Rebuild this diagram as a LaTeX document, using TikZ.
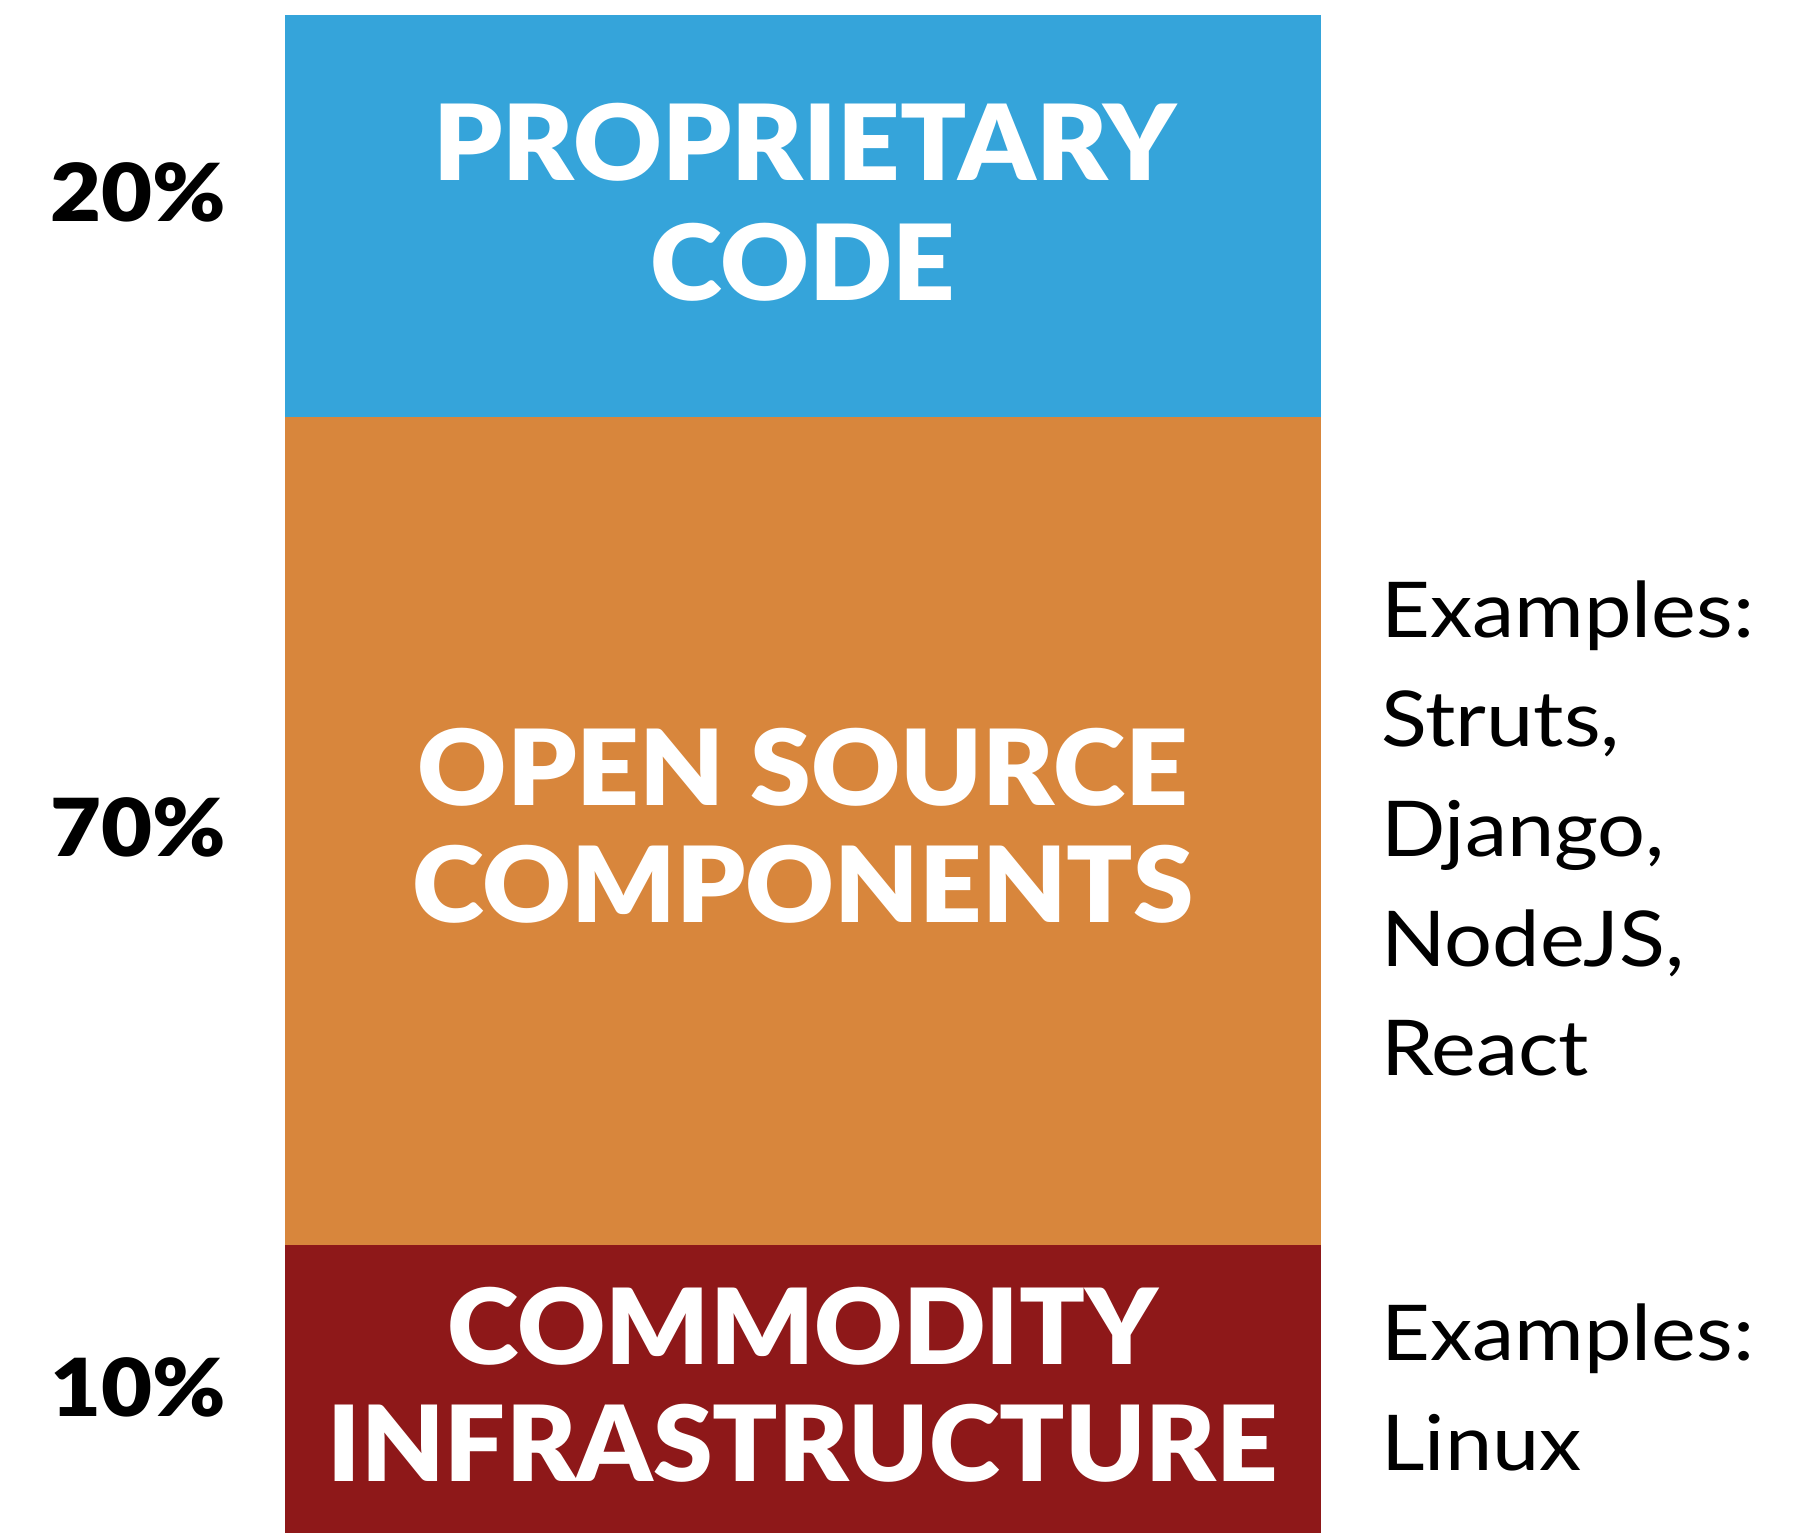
\documentclass[tikz,border=0pt]{standalone}
\usepackage{fontspec}
\setmainfont{Lato}
\newfontfamily\heavyfont{Lato Black}
\definecolor{cblue}{HTML}{35A4DA}
\definecolor{corange}{HTML}{D8863C}
\definecolor{cred}{HTML}{8E1819}
\newcommand\widen[2]{\scalebox{#1}[1]{#2}}
\tikzset{
  boxtxt/.style={text=white, font=\fontsize{105}{119}\selectfont\heavyfont, inner sep=0pt, anchor=base},
  pct/.style={text=black, font=\fontsize{80}{90}\selectfont\heavyfont, inner sep=0pt, anchor=base west},
  side/.style={text=black, font=\fontsize{77}{110}\selectfont, inner sep=0pt, anchor=base west},
}
\begin{document}
\begin{tikzpicture}[x=1pt,y=-1pt]
\useasboundingbox (0,0) rectangle (1812,1533);
\fill[cblue] (285,15) rectangle (1321,417);
\fill[corange] (285,417) rectangle (1321,1245);
\fill[cred] (285,1245) rectangle (1321,1533);
\node[boxtxt] (p1) at (805,181) {\widen{1.04}{PROPRIETARY}};
\node[boxtxt] (p2) at (803,300) {\widen{1.04}{CODE}};
\node[boxtxt] (o1) at (803,805) {\widen{1.045}{OPEN SOURCE}};
\node[boxtxt] (o2) at (803,922) {\widen{1.04}{COMPONENTS}};
\node[boxtxt] (c1) at (803,1364) {\widen{1.035}{COMMODITY}};
\node[boxtxt] (c2) at (803,1481) {\widen{1.025}{INFRASTRUCTURE}};
\node[pct] (n20) at (50,222) {\widen{1.1}{20\%}};
\node[pct] (n70) at (50,856) {\widen{1.1}{70\%}};
\node[pct] (n10) at (50,1416) {\widen{1.1}{10\%}};
\node[side] (e1) at (1381,637) {\widen{1.1}{Examples:}};
\node[side] (e2) at (1381,746) {\widen{1.1}{Struts,}};
\node[side] (e3) at (1381,856) {\widen{1.1}{Django,}};
\node[side] (e4) at (1381,966) {\widen{1.1}{NodeJS,}};
\node[side] (e5) at (1381,1075) {\widen{1.1}{React}};
\node[side] (f1) at (1381,1360) {\widen{1.1}{Examples:}};
\node[side] (f2) at (1381,1470) {\widen{1.1}{Linux}};
\end{tikzpicture}
\end{document}
